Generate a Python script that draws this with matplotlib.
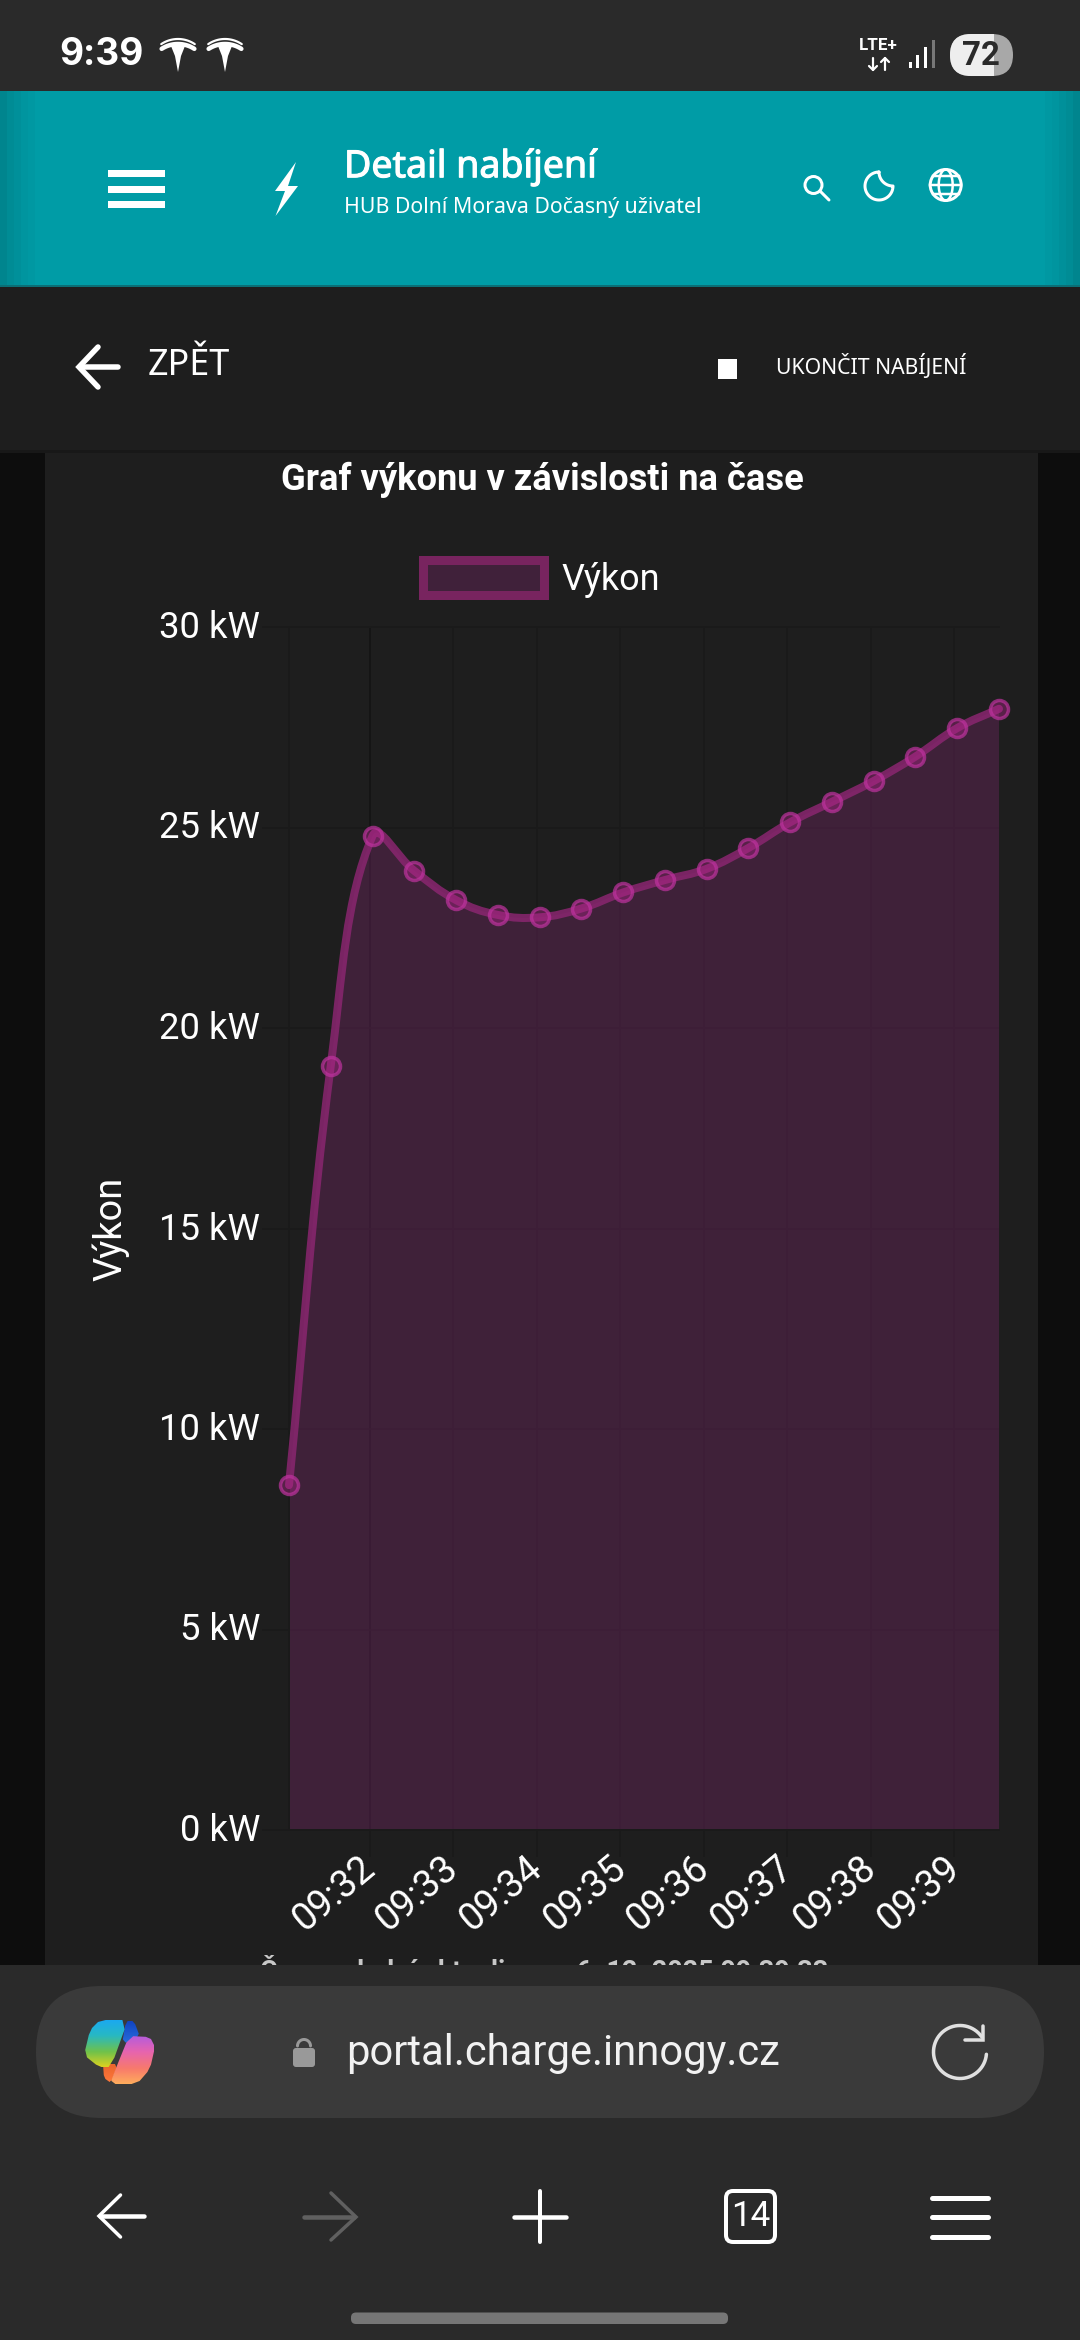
"""Detail nabíjení: graf výkonu v závislosti na čase (screenshot z mobilu)."""

import numpy as np
import matplotlib

matplotlib.use("Agg")
from matplotlib import patheffects
from matplotlib import pyplot as plt
from matplotlib.lines import Line2D
from matplotlib.patches import Circle, FancyBboxPatch, PathPatch, Patch, Polygon, Rectangle
from matplotlib.path import Path
from matplotlib.transforms import ScaledTranslation

plt.rcParams["font.family"] = ["Roboto", "DejaVu Sans"]

# data
times = [
    "09:31:02", "09:31:32", "09:32:02", "09:32:32", "09:33:02", "09:33:32",
    "09:34:02", "09:34:32", "09:35:02", "09:35:32", "09:36:02", "09:36:32",
    "09:37:02", "09:37:32", "09:38:02", "09:38:32", "09:39:02", "09:39:32",
]
power_kw = [
    8.6, 19.06, 24.79, 23.92, 23.19, 22.82, 22.76, 22.98, 23.38,
    23.69, 23.97, 24.49, 25.13, 25.64, 26.16, 26.77, 27.48, 27.96,
]
minute_ticks = ["09:32", "09:33", "09:34", "09:35", "09:36", "09:37", "09:38", "09:39"]
kw_ticks = [0, 5, 10, 15, 20, 25, 30]
kw_labels = ["0 kW", "5 kW", "10 kW", "15 kW", "20 kW", "25 kW", "30 kW"]

W, H = 1080, 2340
BAR = "#2a2a2a"
CARD = "#1e1e1e"
TEAL = "#009ca6"
GRID = "#1a1a1a"
GRID_DARK = "#131313"
MAGENTA = "#7f276e"
LINE_COLOR = "#8a2670"


def to_seconds(stamp):
    parts = [int(p) for p in stamp.split(":")]
    return parts[0] * 3600 + parts[1] * 60 + (parts[2] if len(parts) > 2 else 0)


def px(size):
    """Velikost v pixelech na body."""
    return size * 0.72


def spline_path(ax, xs, ys, tension=0.4):
    """Bezierova křivka přes body, stejně jako spline v Chart.js."""
    data = np.column_stack([xs, ys])
    pts = ax.transData.transform(data)
    verts = [pts[0]]
    codes = [Path.MOVETO]
    count = len(pts)
    for i in range(count - 1):
        for j, sign in ((i, 1), (i + 1, -1)):
            prev_pt = pts[max(j - 1, 0)]
            cur_pt = pts[j]
            next_pt = pts[min(j + 1, count - 1)]
            d01 = np.hypot(*(cur_pt - prev_pt))
            d12 = np.hypot(*(next_pt - cur_pt))
            total = max(d01 + d12, 1e-9)
            factor = tension * (d12 if sign == 1 else d01) / total
            verts.append(cur_pt + sign * factor * (next_pt - prev_pt))
            codes.append(Path.CURVE4)
        verts.append(pts[i + 1])
        codes.append(Path.CURVE4)
    return ax.transData.inverted().transform(np.array(verts)), codes


def label(ax, x, y, text, size, color="white", weight="normal", ha="left", va="center", family=None, **kw):
    return ax.text(x, y, text, fontsize=px(size), color=color, fontweight=weight, ha=ha, va=va,
                   family=family or ["Roboto", "DejaVu Sans"], **kw)


def stroke(ax, xs, ys, width, color="white", cap="round", join="round"):
    ax.add_line(Line2D(xs, ys, lw=px(width), color=color, solid_capstyle=cap, solid_joinstyle=join))


def arc_xy(cx, cy, r, start, end, n=60):
    angles = np.radians(np.linspace(start, end, n))
    return cx + r * np.cos(angles), cy + r * np.sin(angles)


def chaikin(points, rounds=1):
    pts = np.array(points, dtype=float)
    for _ in range(rounds):
        nxt = np.roll(pts, -1, axis=0)
        pts = np.column_stack([0.8 * pts + 0.2 * nxt, 0.2 * pts + 0.8 * nxt]).reshape(-1, 2)
    return pts


def gradient_shape(ax, points, colors, extent):
    cmap = matplotlib.colors.LinearSegmentedColormap.from_list("g", colors)
    img = ax.imshow(np.linspace(0, 1, 64).reshape(-1, 1), cmap=cmap, aspect="auto", extent=extent, zorder=5)
    img.set_clip_path(Polygon(chaikin(points), closed=True, transform=ax.transData))


def tesla(ax, cx, top):
    ax.add_patch(Polygon([(cx - 7, top + 8), (cx + 7, top + 8), (cx + 3, top + 18), (cx, top + 34),
                          (cx - 3, top + 18)], closed=True, fc="white", ec="none"))
    xs, ys = arc_xy(cx, top + 31, 30, 236, 304)
    stroke(ax, xs, ys, 2.2)
    xs, ys = arc_xy(cx, top + 36, 30, 237, 303)
    stroke(ax, xs, ys, 4.5)


fig = plt.figure(figsize=(W / 100, H / 100), dpi=100, facecolor=CARD)

# pozadí stránky pod grafem
bg = fig.add_axes([0, 0, 1, 1], zorder=0)
bg.set_xlim(0, W)
bg.set_ylim(H, 0)
bg.axis("off")
bg.add_patch(Rectangle((0, 452), 45, 1520, fc="#0d0d0d", ec="none"))
bg.add_patch(Rectangle((1038, 452), 42, 1520, fc="#0d0d0d", ec="none"))

# graf
ax = fig.add_axes([289 / W, 1 - 1830 / H, 710 / W, 1203 / H], zorder=1)
ax.set_facecolor("none")
seconds = [to_seconds(t) for t in times]
tick_seconds = [to_seconds(t) for t in minute_ticks]
ax.set_xlim(seconds[0], seconds[-1])
ax.set_ylim(kw_ticks[0], kw_ticks[-1])
ax.set_xticks(tick_seconds)
ax.set_xticklabels(minute_ticks, rotation=40, ha="right", va="top", rotation_mode="anchor")
ax.set_yticks(kw_ticks)
ax.set_yticklabels(kw_labels)
ax.tick_params(axis="x", length=px(27), width=px(2), color=GRID, labelcolor="white", labelsize=px(38), pad=px(-8))
ax.tick_params(axis="y", length=px(27), width=px(2), color=GRID, labelcolor="white", labelsize=px(36.5), pad=px(2))
ax.grid(True, color=GRID, linewidth=px(1.5))
ax.set_axisbelow(True)
ax.get_xgridlines()[0].set_color(GRID_DARK)
ax.get_xticklines()[0].set_color(GRID_DARK)
for name, spine in ax.spines.items():
    spine.set_color(GRID)
    spine.set_linewidth(px(2))
ax.spines["right"].set_visible(False)
for tick_label in ax.get_yticklabels():
    tick_label.set_transform(tick_label.get_transform() + ScaledTranslation(0, 3 / 100, fig.dpi_scale_trans))
for tick_label in ax.get_xticklabels():
    tick_label.set_transform(tick_label.get_transform() + ScaledTranslation(-11 / 100, 0, fig.dpi_scale_trans))
ax.set_ylabel("Výkon", color="white", fontsize=px(38), va="center")
ax.yaxis.set_label_coords((111 - 289) / 710, 0.5)
ax.set_title("Graf výkonu v závislosti na čase", color="white", fontsize=px(36.2), fontweight="bold",
             x=(542 - 289) / 710, pad=(627 - 490) * 0.72)

verts, codes = spline_path(ax, seconds, power_kw)
area_verts = np.vstack([verts, [seconds[-1], 0], [seconds[0], 0]])
area_codes = codes + [Path.LINETO, Path.LINETO]
ax.add_patch(PathPatch(Path(area_verts, area_codes), fc=MAGENTA, ec="none", alpha=0.35, zorder=2))
ax.add_patch(PathPatch(Path(verts, codes), fc="none", ec=LINE_COLOR, lw=px(8), alpha=0.85, zorder=3,
                       capstyle="round", clip_on=False))
ax.plot(seconds, power_kw, ls="none", marker="o", ms=px(18), mfc=(0.72, 0.15, 0.56, 0.38),
        mec=(0.74, 0.2, 0.62, 0.7), mew=px(3.5), zorder=4, clip_on=False)

handle = Patch(facecolor="#40213a", edgecolor="#78245f", linewidth=px(9), label="Výkon")
legend = ax.legend(handles=[handle], loc="center left", frameon=False, fontsize=px(36), labelcolor="white",
                   bbox_to_anchor=(405 / W, 1 - 579 / H), bbox_transform=fig.transFigure,
                   handlelength=3.35, handleheight=1.1, handletextpad=0.5, borderpad=0)

# prvky telefonu a prohlížeče
ui = fig.add_axes([0, 0, 1, 1], zorder=2)
ui.set_xlim(0, W)
ui.set_ylim(H, 0)
ui.axis("off")
ui.set_facecolor("none")

# text pod spodní lištou je oříznutý
label(ui, 260, 1955, "Čas poslední aktualizace: 6. 12. 2025 09:39:33", 27, color="#c8c8c8", weight="bold", va="top",
      zorder=0.5)

ui.add_patch(Rectangle((0, 0), W, 91, fc=BAR, ec="none", zorder=1))
ui.add_patch(Rectangle((0, 91), W, 195, fc=TEAL, ec="none", zorder=1))
for i, alpha in enumerate([0.14, 0.1, 0.07, 0.04, 0.02]):
    ui.add_patch(Rectangle((i * 7, 91), 7, 195, fc="black", alpha=alpha, ec="none", zorder=1))
    ui.add_patch(Rectangle((W - (i + 1) * 7, 91), 7, 195, fc="black", alpha=alpha, ec="none", zorder=1))
ui.add_patch(Rectangle((0, 286), W, 166, fc=CARD, ec="none", zorder=1))
ui.add_patch(Rectangle((0, 285), W, 2, fc="#0b6f76", ec="none", zorder=1))
ui.add_patch(Rectangle((0, 450), W, 3, fc="#181818", ec="none", zorder=1))
ui.add_patch(Rectangle((0, 1965), W, H - 1965, fc=BAR, ec="none", zorder=1))

# stavový řádek
label(ui, 59, 55, "9:39", 37, weight="bold", family=["Inter", "Roboto"], zorder=6)
tesla(ui, 178, 38)
tesla(ui, 225, 38)
label(ui, 878, 46, "LTE+", 17, weight="bold", ha="center", zorder=6)
for arrow_x, tip, tail in ((873, 70, 58), (885, 58, 70)):
    stroke(ui, [arrow_x, arrow_x], [tip, tail], 2.2)
    side = -4 if tip > tail else 4
    stroke(ui, [arrow_x - 4, arrow_x, arrow_x + 4], [tip + side, tip, tip + side], 2.2)
for bar_x, bar_top, bar_color in ((910, 62, "white"), (917.5, 55, "white"), (925, 47, "white"), (933, 40, "#777777")):
    ui.add_patch(Rectangle((bar_x - 1.5, bar_top), 3, 68 - bar_top, fc=bar_color, ec="none"))
shape = FancyBboxPatch((971, 55), 21, 0.01, boxstyle="round,pad=21,rounding_size=21", fc="#a8a8a8", ec="none")
ui.add_patch(shape)
white_part = ui.add_patch(Rectangle((940, 30), 54, 50, fc="#eeeeee", ec="none"))
white_part.set_clip_path(shape)
label(ui, 981, 56, "72", 33, color="#2a2a2a", weight="bold", ha="center", zorder=6)

# hlavička
for y0, y1 in ((170, 176.5), (186, 192.5), (201, 208)):
    ui.add_patch(Rectangle((108, y0), 57, y1 - y0, fc="white", ec="none"))
ui.add_patch(Polygon([(296, 162), (275, 191), (285, 191), (275.5, 216), (298, 186), (288, 186)], closed=True,
                     fc="white", ec="none"))
heading = label(ui, 344, 167, "Detail nabíjení", 37.5, family=["Noto Sans"], zorder=6)
heading.set_path_effects([patheffects.withStroke(linewidth=0.8, foreground="white")])
label(ui, 344, 208, "HUB Dolní Morava Dočasný uživatel", 21.3, family=["Noto Sans"], zorder=6)
ui.add_patch(Circle((813.5, 185), 8.5, fc="none", ec="white", lw=px(3)))
stroke(ui, [820, 829], [191, 200], 3)
xs1, ys1 = arc_xy(879, 186, 14, 270, 0)
xs2, ys2 = arc_xy(893, 172, 14, 90, 180)
stroke(ui, np.r_[xs1, xs2], np.r_[ys1, ys2], 3)
ui.add_patch(Circle((945.7, 185), 15.5, fc="none", ec="white", lw=px(3)))
ui.add_line(Line2D([930, 961], [185, 185], lw=px(2.5), color="white"))
ui.add_line(Line2D([933, 958.5], [176, 176], lw=px(2.5), color="white"))
ui.add_line(Line2D([933, 958.5], [194, 194], lw=px(2.5), color="white"))
xs, ys = arc_xy(945.7, 185, 15.5, -90, 90)
stroke(ui, 945.7 + (xs - 945.7) * 0.45, ys, 2.5)
stroke(ui, 945.7 - (xs - 945.7) * 0.45, ys, 2.5)

# řádek ZPĚT
stroke(ui, [118, 81], [367, 367], 5.5)
stroke(ui, [98, 79, 98], [347, 367, 387], 5.5, join="miter")
label(ui, 148, 366, "ZPĚT", 36, family=["Noto Sans"], zorder=6)
ui.add_patch(Rectangle((717.5, 359), 19.5, 20, fc="white", ec="none"))
label(ui, 776, 366, "UKONČIT NABÍJENÍ", 21.2, family=["Noto Sans"], zorder=6)

# adresní řádek
ui.add_patch(FancyBboxPatch((36 + 66, 1986 + 66), 1008 - 132, 0.01, boxstyle="round,pad=66,rounding_size=66",
                            fc="#3a3a3a", ec="none", zorder=2))
gradient_shape(ui, [(126, 2021), (134, 2021), (140, 2037), (122, 2044)], ["#0f3fc0", "#2a73de"], (120, 142, 2046, 2019))
gradient_shape(ui, [(103, 2064), (118, 2064), (111, 2083), (104, 2078)], ["#e8622c", "#ff7a3c"], (100, 120, 2084, 2062))
gradient_shape(ui, [(100, 2020), (128, 2020), (111, 2067), (99, 2067), (84, 2055), (90, 2030)],
               ["#19a7f5", "#27b8c4", "#70c24a", "#e8d21c"], (82, 130, 2069, 2018))
gradient_shape(ui, [(129, 2036), (150, 2037), (155, 2047), (150, 2069), (137, 2084), (110, 2084), (116, 2068)],
               ["#b15be0", "#e664b0", "#f87a6c", "#ffb25a"], (108, 157, 2086, 2034))
ui.add_patch(FancyBboxPatch((293, 2048), 22, 19, boxstyle="round,pad=0,rounding_size=3", fc="#999999", ec="none", zorder=3))
xs, ys = arc_xy(304, 2046, 6.5, 180, 360)
stroke(ui, xs, ys, 3, color="#999999")
label(ui, 346, 2053, "portal.charge.innogy.cz", 41.8, color="#f2f2f2", zorder=6)
xs, ys = arc_xy(960, 2052, 26.5, -35, -355)
stroke(ui, xs, ys, 3.5, color="#e0e0e0")
stroke(ui, [965, 983, 983], [2040, 2040, 2026], 3.5, color="#e0e0e0", join="miter")

# spodní navigace
stroke(ui, [144, 100], [2216, 2216], 4.5)
stroke(ui, [120.5, 99, 120.5], [2195, 2216, 2237], 3.5, join="miter")
stroke(ui, [304, 354], [2217, 2217], 4.5, color="#606060")
stroke(ui, [331, 356, 331], [2193, 2217, 2240], 3.5, color="#606060", join="miter")
stroke(ui, [514, 566], [2217, 2217], 4.5)
stroke(ui, [540, 540], [2191, 2242], 4)
ui.add_patch(FancyBboxPatch((726, 2191), 49, 51, boxstyle="round,pad=0,rounding_size=7", fc="none", ec="white",
                            lw=px(4), zorder=3))
label(ui, 750.5, 2217, "14", 35, ha="center", zorder=6)
for y0 in (2198, 2217, 2237):
    stroke(ui, [932, 988], [y0, y0], 5, cap="round")
ui.add_patch(FancyBboxPatch((351, 2312.5), 377, 11.5, boxstyle="round,pad=0,rounding_size=5", fc="#767676", ec="none", zorder=3))

ui.set_xlim(0, W)
ui.set_ylim(H, 0)

fig.savefig("out.png", dpi=100, facecolor=CARD)
plt.close(fig)
